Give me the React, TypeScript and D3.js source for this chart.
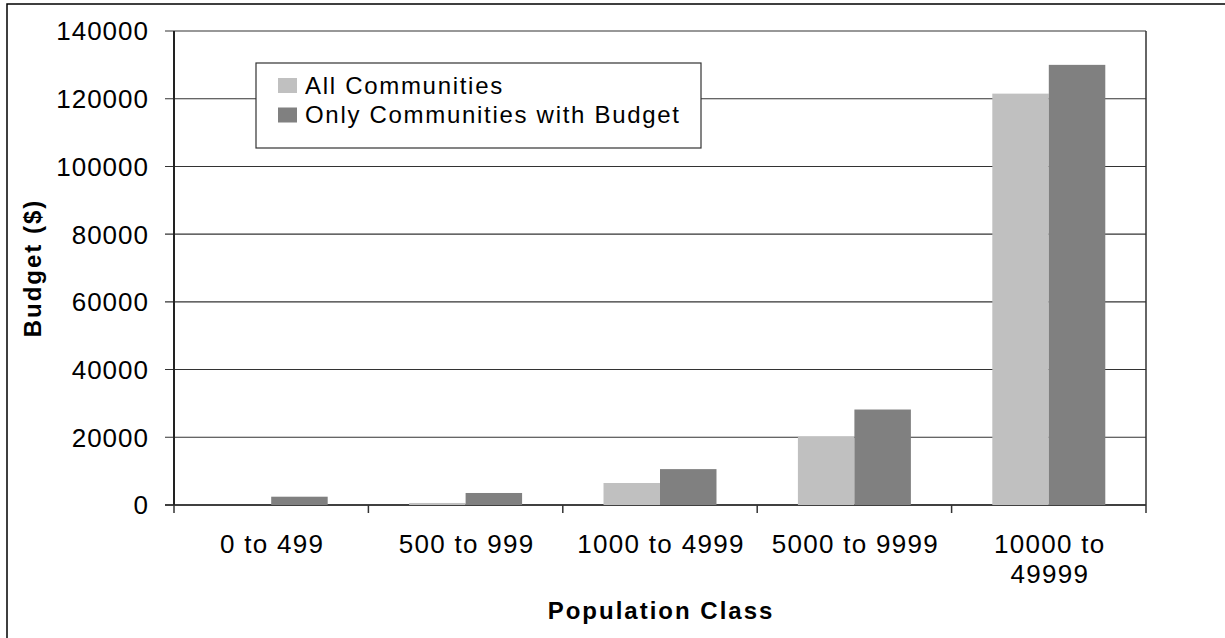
import React from "react";
import * as d3 from "d3";

const categories = ["0 to 499", "500 to 999", "1000 to 4999", "5000 to 9999", "10000 to|49999"];
const seriesNames = ["All Communities", "Only Communities with Budget"];
const allCommunities = [0, 600, 6500, 20100, 121500];
const withBudget = [2450, 3550, 10600, 28200, 130000];
const yTicks = [0, 20000, 40000, 60000, 80000, 100000, 120000, 140000];
const colors = ["#C0C0C0", "#808080"];

const W = 1225, H = 638;
const left = 174, right = 1146, top = 31, bottom = 505;
const FONT = "'Liberation Sans', Arial, sans-serif";

export default function App() {
  const x = d3.scaleBand<string>().domain(categories).range([left, right]).paddingInner(0.4188).paddingOuter(0.2094);
  const xs = d3.scaleBand<number>().domain([0, 1]).range([0, x.bandwidth()]);
  const y = d3.scaleLinear().domain([0, 140000]).range([bottom, top]);
  const step = x.step();
  const series = [allCommunities, withBudget];

  return (
    <svg width={W} height={H} style={{ position: "absolute", left: 0, top: 0, background: "#fff" }} fontFamily={FONT}>
      <rect x={7} y={4} width={1240} height={660} fill="none" stroke="#000" strokeWidth={1.5} />
      {/* gridlines */}
      {yTicks.map((t) => (
        <line key={t} x1={left - 9} x2={right} y1={y(t)} y2={y(t)} stroke={t === 0 ? "#000" : "#333"} strokeWidth={t === 0 ? 1.5 : 1.1} />
      ))}
      {/* plot frame right */}
      <line x1={right} x2={right} y1={top} y2={bottom} stroke="#333" strokeWidth={1.5} />
      {/* bars */}
      {categories.map((c, i) =>
        series.map((s, k) => (
          <rect
            key={c + k}
            x={(x(c) as number) + (xs(k) as number)}
            y={y(s[i])}
            width={xs.bandwidth()}
            height={bottom - y(s[i])}
            fill={colors[k]}
          />
        ))
      )}
      {/* y axis */}
      <line x1={left} x2={left} y1={top} y2={bottom} stroke="#222" strokeWidth={2} />
      {/* x ticks */}
      {d3.range(categories.length + 1).map((i) => (
        <line key={i} x1={left + i * step} x2={left + i * step} y1={bottom} y2={bottom + 8} stroke="#333" strokeWidth={1.5} />
      ))}
      {/* y tick labels */}
      {yTicks.map((t) => (
        <text key={t} x={149} y={y(t)} dy="0.36em" textAnchor="end" fontSize={26} letterSpacing={1} fill="#000">
          {String(t)}
        </text>
      ))}
      {/* category labels */}
      {categories.map((c) => {
        const cx = (x(c) as number) + x.bandwidth() / 2;
        return c.split("|").map((line, j) => (
          <text key={c + j} x={cx + 1} y={553 + j * 30} textAnchor="middle" fontSize={26} letterSpacing={1.3} fill="#000">
            {line}
          </text>
        ));
      })}
      {/* axis titles */}
      <text x={(left + right) / 2 + 1} y={619} textAnchor="middle" fontSize={24} fontWeight="bold" letterSpacing={2} fill="#000">
        Population Class
      </text>
      <text transform={`translate(41,${(top + bottom) / 2}) rotate(-90)`} textAnchor="middle" fontSize={24} fontWeight="bold" letterSpacing={2} fill="#000">
        Budget ($)
      </text>
      {/* legend */}
      <rect x={256} y={63} width={445} height={85} fill="#fff" stroke="#333" strokeWidth={1.2} />
      {seriesNames.map((n, k) => (
        <g key={n}>
          <rect x={278} y={78 + k * 29.5} width={19} height={15} fill={colors[k]} />
          <text x={305} y={93.5 + k * 29.5} fontSize={24} letterSpacing={1.7} fill="#000">
            {n}
          </text>
        </g>
      ))}
    </svg>
  );
}
